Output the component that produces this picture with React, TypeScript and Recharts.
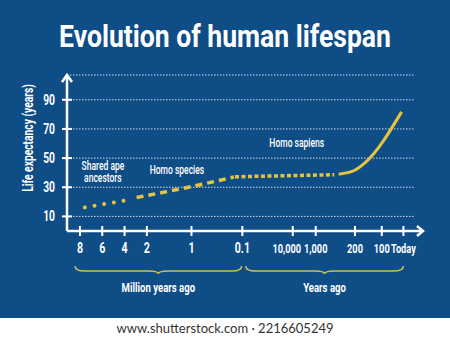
import { LineChart, Line, XAxis, YAxis, CartesianGrid, ReferenceDot, ReferenceArea } from "recharts";

// x axis: position of each label along the (non-linear) time axis
const tickLabels = ["8", "6", "4", "2", "1", "0.1", "10,000", "1,000", "200", "100", "Today"];
const tickPos = [1, 2, 3, 4, 6, 8.28, 10.54, 11.57, 13.33, 14.53, 15.5];
const yTicks = [10, 30, 50, 70, 90];

// life expectancy (years)
const apeX = [1.22, 2.99];
const apeY = [16.2, 20.8];
const speciesX = [3.54, 6, 7.9];
const speciesY = [23, 30.5, 37];
const sapiensX = [7.95, 12.4];
const sapiensY = [37.2, 38.6];
const modernX = [12.6, 13.3, 13.8, 15.42];
const modernY = [39, 41.5, 47, 81.7];

const noteText = ["Shared ape\nancestors", "Homo species", "Homo sapiens"];
const noteX = [2.03, 5.35, 10.72];
const noteY = [40.6, 42, 60.3];

const braceFrom = [0.78, 8.43];
const braceTo = [8.25, 15.5];
const braceLabels = ["Million years ago", "Years ago"];

const X_DOMAIN: [number, number] = [0.42, 16.02];
const Y_DOMAIN: [number, number] = [0, 107];

const FONT = 'Roboto, "Liberation Sans", sans-serif';
const SQ = 0.71; // horizontal squeeze to mimic the condensed face
const BG = "#0f4d87";
const YELLOW = "#e6c43f";
const BRACE = "#cdbd5a";

const zip = (xs: number[], ys: number[]) => xs.map((x, i) => ({ x, y: ys[i] }));
const ape = zip(apeX, apeY);
const species = zip(speciesX, speciesY);
const sapiens = zip(sapiensX, sapiensY);
const modern = zip(modernX, modernY);

function CText({ x, y, size, weight = "normal", anchor = "middle", rotate = 0, children }: any) {
  return (
    <text transform={`translate(${x} ${y}) rotate(${rotate}) scale(${SQ} 1)`} textAnchor={anchor}
      fill="#fff" fontSize={size} fontWeight={weight} fontFamily={FONT}>
      {children}
    </text>
  );
}

function XTick(props: any) {
  const { x, y, payload } = props;
  const i = tickPos.indexOf(payload.value);
  const dx = tickLabels[i] === "10,000" ? -6 : 0;
  return (
    <g>
      <line x1={x} x2={x} y1={y - 5} y2={y + 5} stroke="#fff" strokeWidth={2} />
      <CText x={x + dx} y={y + 22} size={i >= 6 ? 13 : 15} weight="bold">{tickLabels[i]}</CText>
    </g>
  );
}

function YTick(props: any) {
  const { x, y, payload } = props;
  return (
    <g>
      <line x1={x - 5} x2={x + 5} y1={y} y2={y} stroke="#fff" strokeWidth={2} />
      <CText x={x - 12} y={y + 5} size={14.5} weight="bold" anchor="end">{payload.value}</CText>
    </g>
  );
}

function Note(text: string) {
  return (p: any) => {
    const lines = text.split("\n");
    return (
      <g>
        {lines.map((l, i) => (
          <CText key={i} x={p.cx} y={p.cy + 4 + (i - (lines.length - 1) / 2) * 12} size={12} weight={500}>
            {l}
          </CText>
        ))}
      </g>
    );
  };
}

function Brace(label: string) {
  return (p: any) => {
    const { x, y, width } = p;
    const m = x + width / 2;
    const mid = y + 5;
    const r = 10;
    const d = `M${x},${y} Q${x},${mid} ${x + r},${mid} L${m - r},${mid} Q${m},${mid} ${m},${y + 8} ` +
      `Q${m},${mid} ${m + r},${mid} L${x + width - r},${mid} Q${x + width},${mid} ${x + width},${y}`;
    return (
      <g>
        <path d={d} fill="none" stroke={BRACE} strokeWidth={1.5} />
        <CText x={m} y={y + 26} size={13.5} weight="bold">{label}</CText>
      </g>
    );
  };
}

const xArrow = (p: any) => (
  <g stroke="#fff" strokeWidth={2.5} fill="none">
    <line x1={p.cx} x2={p.cx + 8} y1={p.cy} y2={p.cy} />
    <polyline points={`${p.cx + 2},${p.cy - 5} ${p.cx + 8},${p.cy} ${p.cx + 2},${p.cy + 5}`} />
  </g>
);

const yArrow = (p: any) => (
  <g stroke="#fff" strokeWidth={2.5} fill="none">
    <polyline points={`${p.cx - 5},${p.cy + 7} ${p.cx},${p.cy} ${p.cx + 5},${p.cy + 7}`} />
  </g>
);

export default function App() {
  return (
    <div style={{ position: "absolute", left: 0, top: 0, width: 450, height: 339, background: "#fff" }}>
      <div style={{ position: "absolute", left: 0, top: 0, width: 450, height: 318, background: BG }}>
        <div style={{
          position: "absolute", left: 0, top: 18, width: 450, textAlign: "center", color: "#fff",
          fontFamily: FONT, fontWeight: "bold", fontSize: 31, lineHeight: "38px",
          transform: "scaleX(0.856)", transformOrigin: "225px 0",
        }}>Evolution of human lifespan</div>
        <LineChart width={450} height={318} margin={{ top: 75, right: 35, bottom: 57, left: 22 }}
          style={{ position: "absolute", left: 0, top: 0 }}>
          <CartesianGrid vertical={false} stroke="#fff" strokeOpacity={0.8} strokeDasharray="1.5 1.5" />
          <XAxis type="number" dataKey="x" domain={X_DOMAIN} ticks={tickPos} interval={0} height={30}
            allowDataOverflow axisLine={{ stroke: "#fff", strokeWidth: 2.5 }} tickLine={false}
            tickSize={0} tickMargin={0} tick={<XTick />} />
          <YAxis type="number" domain={Y_DOMAIN} ticks={yTicks} interval={0} width={45}
            allowDataOverflow axisLine={{ stroke: "#fff", strokeWidth: 2.5 }} tickLine={false}
            tickSize={0} tickMargin={0} tick={<YTick />}
            label={{
              content: (lp: any) => {
                const vb = lp.viewBox;
                return (
                  <CText x={vb.x + 11} y={vb.y + vb.height / 2 - 15} rotate={-90} size={14.5} weight="bold">
                    Life expectancy (years)
                  </CText>
                );
              },
            }} />
          <Line data={ape} dataKey="y" type="linear" stroke={YELLOW} strokeWidth={4}
            strokeDasharray="0.01 9.8" strokeLinecap="round" dot={false} activeDot={false}
            isAnimationActive={false} />
          <Line data={species} dataKey="y" type="monotone" stroke={YELLOW} strokeWidth={3.5}
            strokeDasharray="7 5" dot={false} activeDot={false} isAnimationActive={false} />
          <Line data={sapiens} dataKey="y" type="linear" stroke={YELLOW} strokeWidth={3.5}
            strokeDasharray="4 2.5" dot={false} activeDot={false} isAnimationActive={false} />
          <Line data={modern} dataKey="y" type="monotone" stroke={YELLOW} strokeWidth={3}
            dot={false} activeDot={false} isAnimationActive={false} />
          {noteText.map((t, i) => (
            <ReferenceDot key={t} x={noteX[i]} y={noteY[i]} r={1} shape={Note(t)} />
          ))}
          {braceLabels.map((l, i) => (
            <ReferenceArea key={l} x1={braceFrom[i]} x2={braceTo[i]} y1={-29.5} y2={-24}
              ifOverflow="visible" shape={Brace(l)} />
          ))}
          <ReferenceDot x={X_DOMAIN[1]} y={0} r={1} shape={xArrow} />
          <ReferenceDot x={X_DOMAIN[0]} y={Y_DOMAIN[1]} r={1} shape={yArrow} />
        </LineChart>
      </div>
      <div style={{
        position: "absolute", left: 0, top: 318, width: 450, height: 21, lineHeight: "21px",
        textAlign: "center", color: "#333", fontFamily: "Lato, 'Open Sans', sans-serif", fontSize: 13,
      }}>www.shutterstock.com · 2216605249</div>
    </div>
  );
}
